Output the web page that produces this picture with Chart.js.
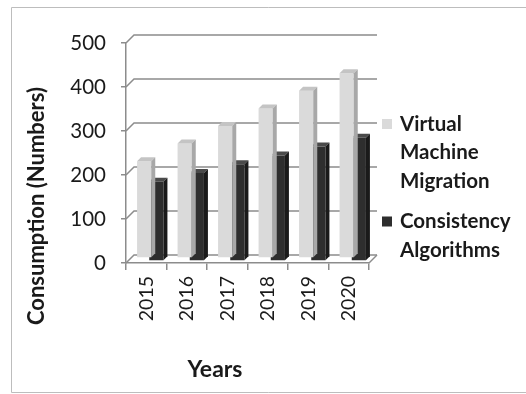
<!DOCTYPE html>
<html lang="en">
<head>
<meta charset="UTF-8">
<title>Consumption by year</title>
<script src="https://cdn.jsdelivr.net/npm/chart.js"></script>
<style>
  html, body { margin: 0; padding: 0; background: #fff; overflow: hidden; }
  canvas { display: block; }
</style>
</head>
<body>
<canvas id="chart" width="526" height="394"></canvas>
<script>
const years = ["2015", "2016", "2017", "2018", "2019", "2020"];
const vmMigration = [220, 260, 300, 340, 380, 420];
const consistency = [180, 200, 220, 240, 260, 280];
const seriesLines = [["Virtual", "Machine", "Migration"], ["Consistency", "Algorithms"]];
const yTitle = "Consumption (Numbers)";
const xTitle = "Years";

const FONT = "Lato, 'Open Sans', sans-serif";
const INK = "#1a1a1a";
const DEPTH = 8;      // back wall offset
const BAR_D = 4;      // bar side depth
const faces = [
  { front: "#dadada", top: "#c4c4c4", side: "#a8a8a8", shift: [5, -5] },
  { front: "#2e2e2e", top: "#4a4a4a", side: "#1a1a1a", shift: [3, -2] }
];

// 3d-ish back wall, bar depth, titles and legend
const decor = {
  id: "decor",
  beforeDraw(chart) {
    const ctx = chart.ctx;
    ctx.save();
    ctx.strokeStyle = "#bdbdbd";
    ctx.lineWidth = 1;
    ctx.beginPath();
    ctx.moveTo(526, 7.5); ctx.lineTo(11.5, 7.5);
    ctx.lineTo(11.5, 392.5); ctx.lineTo(526, 392.5);
    ctx.stroke();
    ctx.restore();
  },
  beforeDatasetsDraw(chart) {
    const { ctx, chartArea: a } = chart;
    const y = chart.scales.y;
    ctx.save();
    ctx.strokeStyle = "#8c8c8c";
    ctx.lineWidth = 1.5;
    y.ticks.forEach(t => {
      const py = y.getPixelForValue(t.value);
      ctx.beginPath();
      ctx.moveTo(a.left, py);
      ctx.lineTo(a.left + DEPTH, py - DEPTH);
      ctx.lineTo(a.right + DEPTH, py - DEPTH);
      ctx.stroke();
    });
    ctx.beginPath();
    ctx.moveTo(a.right, a.bottom);
    ctx.lineTo(a.right + DEPTH, a.bottom - DEPTH);
    ctx.stroke();
    ctx.restore();
  },
  beforeDatasetDraw(chart, args) {
    const s = faces[args.index].shift;
    chart.ctx.save();
    chart.ctx.translate(s[0], s[1]);
  },
  afterDatasetDraw(chart, args) {
    const ctx = chart.ctx;
    const f = faces[args.index];
    args.meta.data.forEach(bar => {
      const { x, y, base, width } = bar.getProps(["x", "y", "base", "width"], true);
      const l = x - width / 2, r = x + width / 2;
      ctx.fillStyle = f.top;
      ctx.beginPath();
      ctx.moveTo(l, y); ctx.lineTo(r, y);
      ctx.lineTo(r + BAR_D, y - BAR_D); ctx.lineTo(l + BAR_D, y - BAR_D);
      ctx.closePath(); ctx.fill();
      ctx.fillStyle = f.side;
      ctx.beginPath();
      ctx.moveTo(r, y); ctx.lineTo(r + BAR_D, y - BAR_D);
      ctx.lineTo(r + BAR_D, base - BAR_D); ctx.lineTo(r, base);
      ctx.closePath(); ctx.fill();
    });
    ctx.restore();
  },
  afterDraw(chart) {
    const ctx = chart.ctx;
    ctx.save();
    ctx.fillStyle = INK;
    ctx.textAlign = "center";
    ctx.textBaseline = "middle";
    ctx.font = "bold 22px " + FONT;
    ctx.save();
    ctx.translate(37, 206);
    ctx.rotate(-Math.PI / 2);
    ctx.fillText(yTitle, 0, 0);
    ctx.restore();
    ctx.font = "bold 23px " + FONT;
    ctx.fillText(xTitle, 215, 370);

    // legend
    ctx.textAlign = "left";
    ctx.font = "bold 20.5px " + FONT;
    let top = 124;
    chart.data.datasets.forEach((ds, i) => {
      ctx.fillStyle = faces[i].front;
      ctx.fillRect(382, top - 5, 10, 10);
      ctx.fillStyle = INK;
      seriesLines[i].forEach((line, j) => ctx.fillText(line, 400, top + j * 28.5));
      top += seriesLines[i].length * 28.5 + 12;
    });
    ctx.restore();
  }
};

new Chart(document.getElementById("chart"), {
  type: "bar",
  data: {
    labels: years,
    datasets: [
      { label: seriesLines[0].join(" "), data: vmMigration, backgroundColor: faces[0].front },
      { label: seriesLines[1].join(" "), data: consistency, backgroundColor: faces[1].front }
    ]
  },
  options: {
    responsive: false,
    animation: false,
    layout: { padding: { left: 0, top: 43, right: 157, bottom: 0 } },
    datasets: { bar: { categoryPercentage: 0.7, barPercentage: 1 } },
    plugins: { legend: { display: false }, tooltip: { enabled: false } },
    scales: {
      x: {
        afterFit(scale) { scale.height = 131; },
        grid: { display: true, drawOnChartArea: false, offset: true, tickLength: 7, color: "#8c8c8c", lineWidth: 1.5 },
        border: { display: true, color: "#8c8c8c", width: 1.5 },
        ticks: { minRotation: 90, maxRotation: 90, padding: 6, color: INK, font: { family: FONT, size: 19.5 } }
      },
      y: {
        min: 0, max: 500,
        afterFit(scale) { scale.width = 126; },
        grid: { display: true, drawOnChartArea: false, tickLength: 5, color: "#8c8c8c", lineWidth: 1.5 },
        border: { display: true, color: "#8c8c8c", width: 1.5 },
        ticks: { stepSize: 100, padding: 15, color: INK, font: { family: FONT, size: 20.5 } }
      }
    }
  },
  plugins: [decor]
});
</script>
</body>
</html>
